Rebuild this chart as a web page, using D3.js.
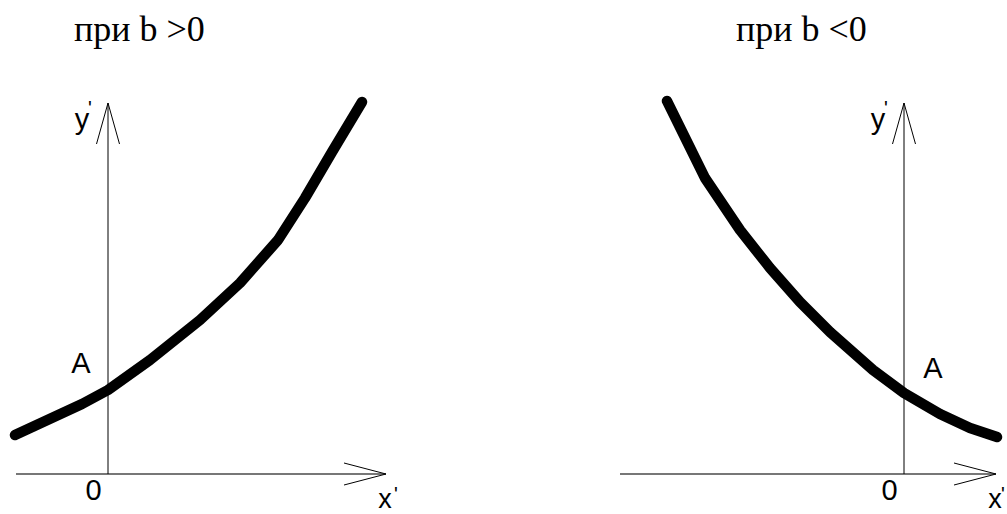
<!DOCTYPE html>
<html>
<head>
<meta charset="utf-8">
<script src="https://cdn.jsdelivr.net/npm/d3@7"></script>
<style>
  html, body { margin: 0; padding: 0; background: #fff; }
  svg { display: block; }
</style>
</head>
<body>
<svg id="chart" width="1007" height="514"></svg>
<script>
// Curve y' = f(x') for b > 0 (left panel) and b < 0 (right panel), in axis units
const growthX = [-0.93, -0.26, 0, 0.42, 0.92, 1.32, 1.70, 1.97, 2.24, 2.54];
const growthY = [0.39, 0.70, 0.84, 1.14, 1.54, 1.91, 2.34, 2.76, 3.22, 3.72];
const decayX = [-2.37, -1.99, -1.64, -1.34, -1.04, -0.74, -0.31, 0, 0.36, 0.66, 0.93];
const decayY = [3.73, 2.96, 2.44, 2.06, 1.72, 1.42, 1.04, 0.81, 0.60, 0.46, 0.37];

// Axis extents (x' axis from/to, y' axis top) in the same units
const leftAxisX = [-0.92, 2.78];
const rightAxisX = [-2.84, 0.92];
const axisTop = 3.71;

const titles = ["при b >0", "при b <0"];
const originLabel = "0";
const pointLabel = "A";
const xLabel = "x";
const yLabel = "y";
const prime = "'";

const svg = d3.select("#chart");

const panels = [
  { title: titles[0], titleX: 74, ox: 108, xs: growthX, ys: growthY, axisX: leftAxisX, aDx: -27, aY: 373, pDx: 10 },
  { title: titles[1], titleX: 736, ox: 904, xs: decayX, ys: decayY, axisX: rightAxisX, aDx: 29, aY: 378, pDx: 7 }
];

const unit = 100;
const originY = 474;

panels.forEach(p => {
  const x = d3.scaleLinear().domain([0, 1]).range([p.ox, p.ox + unit]);
  const y = d3.scaleLinear().domain([0, 1]).range([originY, originY - unit]);
  const g = svg.append("g");

  // title
  g.append("text")
    .attr("x", p.titleX).attr("y", 41)
    .attr("font-family", "Liberation Serif, Times New Roman, serif")
    .attr("font-size", 36)
    .attr("fill", "#000")
    .text(p.title);

  // x' axis
  const xEnd = x(p.axisX[1]);
  g.append("line")
    .attr("x1", x(p.axisX[0])).attr("x2", xEnd)
    .attr("y1", y(0)).attr("y2", y(0))
    .attr("stroke", "#777").attr("stroke-width", 2);
  g.append("path")
    .attr("d", `M${xEnd - 42},${y(0) - 11}L${xEnd},${y(0)}L${xEnd - 42},${y(0) + 11}`)
    .attr("fill", "none").attr("stroke", "#000").attr("stroke-width", 1);

  // y' axis
  const yTop = y(axisTop);
  g.append("line")
    .attr("x1", x(0)).attr("x2", x(0))
    .attr("y1", y(0)).attr("y2", yTop)
    .attr("stroke", "#000").attr("stroke-width", 1);
  g.append("path")
    .attr("d", `M${x(0) - 11.5},${yTop + 41}L${x(0)},${yTop}L${x(0) + 11.5},${yTop + 41}`)
    .attr("fill", "none").attr("stroke", "#000").attr("stroke-width", 1);

  // curve
  const pts = p.xs.map((v, i) => [v, p.ys[i]]);
  const line = d3.line().x(d => x(d[0])).y(d => y(d[1])).curve(d3.curveLinear);
  g.append("path")
    .datum(pts)
    .attr("d", line)
    .attr("fill", "none")
    .attr("stroke", "#000")
    .attr("stroke-width", 10.5)
    .attr("stroke-linecap", "round")
    .attr("stroke-linejoin", "round");

  const sans = "Liberation Sans, Arial, sans-serif";
  const labels = [
    { t: originLabel, x: x(0) - 14.5, y: 500, a: "middle", s: 29 },
    { t: pointLabel, x: x(0) + p.aDx, y: p.aY, a: "middle", s: 29 },
    { t: yLabel, x: x(0) - 26, y: 129, a: "middle", s: 29 },
    { t: prime, x: x(0) - 18, y: 115, a: "middle", s: 20 },
    { t: xLabel, x: xEnd - 1, y: 508, a: "middle", s: 27 },
    { t: prime, x: xEnd + p.pDx, y: 501, a: "middle", s: 20 }
  ];
  g.selectAll("text.lbl").data(labels).enter().append("text")
    .attr("class", "lbl")
    .attr("x", d => d.x).attr("y", d => d.y)
    .attr("text-anchor", d => d.a)
    .attr("font-family", sans)
    .attr("font-size", d => d.s)
    .attr("fill", "#000")
    .text(d => d.t);
});
</script>
</body>
</html>
